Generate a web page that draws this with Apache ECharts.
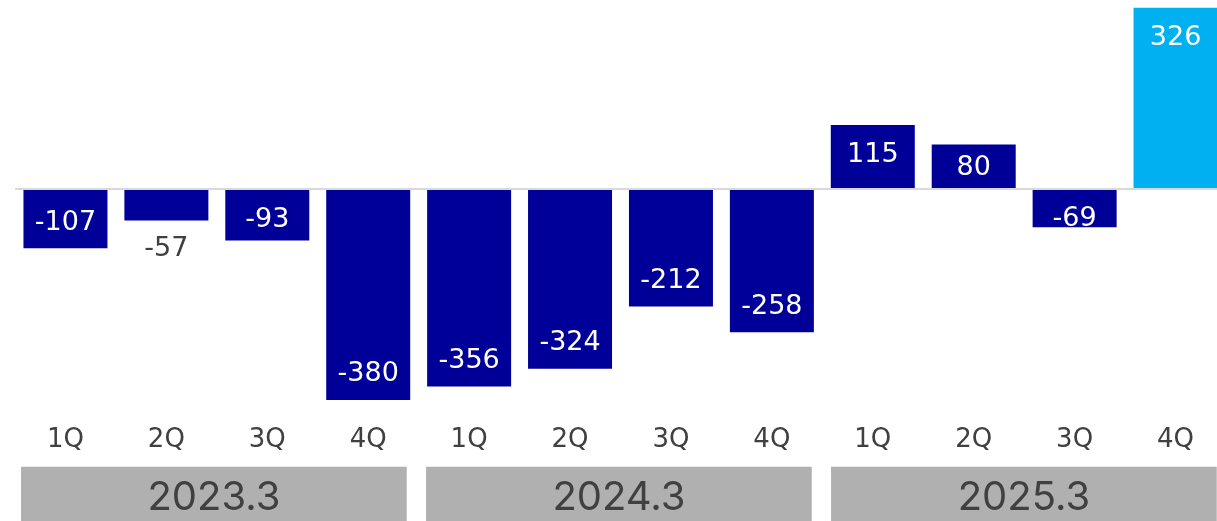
<!DOCTYPE html>
<html>
<head>
<meta charset="utf-8">
<script src="https://cdn.jsdelivr.net/npm/echarts@6/dist/echarts.min.js"></script>
<style>
  html, body { margin: 0; padding: 0; background: #ffffff; overflow: hidden; }
  /* the last bar and last year band run past the right edge of the view */
  #chart { width: 1232px; height: 521px; }
</style>
</head>
<body>
<div id="chart"></div>
<script>
// Quarterly operating result, three fiscal years (FY ending March)
const quarters = ['1Q', '2Q', '3Q', '4Q', '1Q', '2Q', '3Q', '4Q', '1Q', '2Q', '3Q', '4Q'];
const values = [-107, -57, -93, -380, -356, -324, -212, -258, 115, 80, -69, 326];
const fiscalYears = ['2023.3', '2024.3', '2025.3'];

const FONT = '"DejaVu Sans", sans-serif';
const YEAR_FONT = 'Inter, "Noto Sans", sans-serif';
const NAVY = '#000099';
const HIGHLIGHT = '#00b0f0';
const TEXT = '#404040';

const lastIndex = values.length - 1;

// Small bars cannot hold their label comfortably: shift it or move it outside.
function labelFor(v) {
  const base = { show: true, color: '#ffffff', fontSize: 27, lineHeight: 27, fontFamily: FONT };
  const mag = Math.abs(v);
  if (mag < 60) return Object.assign(base, { position: 'bottom', distance: 15, color: TEXT });
  if (mag < 80) return Object.assign(base, { position: 'insideBottom', distance: -5 });
  if (mag < 100) return Object.assign(base, { position: 'insideBottom', distance: 7 });
  return Object.assign(base, v < 0
    ? { position: 'insideBottom', distance: 12 }
    : { position: 'insideTop', distance: 17 });
}

const barData = values.map((v, i) => ({
  value: v,
  itemStyle: { color: i === lastIndex ? HIGHLIGHT : NAVY },
  label: labelFor(v)
}));

const chart = echarts.init(document.getElementById('chart'), null, { renderer: 'canvas' });

chart.setOption({
  animation: false,
  backgroundColor: '#ffffff',
  grid: [
    { left: 15, width: 1211, top: 0, height: 411 },
    { left: 11.4, width: 1215, top: 0, height: 411 }
  ],
  xAxis: [
    {
      type: 'category',
      gridIndex: 0,
      data: quarters,
      position: 'bottom',
      axisLine: { show: false, onZero: false },
      axisTick: { show: false },
      axisLabel: { color: TEXT, fontSize: 26, lineHeight: 26, margin: 16, fontFamily: FONT, interval: 0 }
    },
    {
      type: 'category',
      gridIndex: 1,
      data: fiscalYears,
      position: 'bottom',
      axisLine: { show: false, onZero: false },
      axisTick: { show: false },
      axisLabel: {
        interval: 0,
        color: TEXT,
        fontSize: 40,
        fontFamily: YEAR_FONT,
        backgroundColor: '#b0b0b0',
        width: 385.7,
        height: 45.3,
        lineHeight: 45.3,
        padding: [9, 0, 0, 0],
        align: 'center',
        margin: 55.7
      }
    }
  ],
  yAxis: [
    { type: 'value', gridIndex: 0, min: -400, max: 340, show: false, splitLine: { show: false } },
    { type: 'value', gridIndex: 1, min: -400, max: 340, show: false, splitLine: { show: false } }
  ],
  series: [
    {
      type: 'bar',
      xAxisIndex: 0,
      yAxisIndex: 0,
      barWidth: 84,
      data: barData,
      markLine: {
        silent: true,
        symbol: 'none',
        label: { show: false },
        lineStyle: { color: '#d9d9d9', width: 2, type: 'solid' },
        data: [{ yAxis: 0 }]
      }
    }
  ]
});
</script>
</body>
</html>
